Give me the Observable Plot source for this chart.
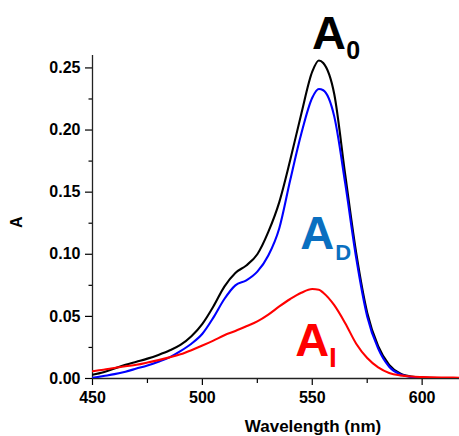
<!DOCTYPE html>
<html>
<head>
<meta charset="utf-8">
<script src="https://cdn.jsdelivr.net/npm/d3@7"></script>
<script src="https://cdn.jsdelivr.net/npm/@observablehq/plot@0.6"></script>
<style>
  html, body { margin: 0; padding: 0; background: #fff; }
</style>
</head>
<body>
<div id="chart"></div>
<script>
// Wavelength grid (nm)
const wavelength = [450, 455, 460, 465, 470, 475, 480, 485, 490, 495, 500, 505, 510, 515, 520, 525, 530, 535, 540, 545, 550, 553, 555, 560, 565, 570, 575, 580, 585, 590, 595, 600, 610, 620];
// A0 (black)
const a0 = [0.003, 0.005, 0.008, 0.011, 0.0135, 0.016, 0.019, 0.0225, 0.027, 0.034, 0.044, 0.058, 0.074, 0.085, 0.091, 0.100, 0.118, 0.142, 0.176, 0.213, 0.247, 0.256, 0.254, 0.229, 0.164, 0.101, 0.053, 0.026, 0.011, 0.004, 0.0015, 0.0008, 0.0004, 0.0003];
// AD (blue)
const aD = [0.0005, 0.002, 0.0035, 0.0055, 0.008, 0.0105, 0.0135, 0.017, 0.022, 0.028, 0.036, 0.049, 0.064, 0.075, 0.079, 0.086, 0.099, 0.121, 0.160, 0.197, 0.226, 0.233, 0.232, 0.211, 0.157, 0.097, 0.050, 0.024, 0.0095, 0.0035, 0.0012, 0.0006, 0.0003, 0.0002];
// AI (red)
const aI = [0.0059, 0.007, 0.0085, 0.0098, 0.011, 0.0128, 0.0148, 0.017, 0.0195, 0.0228, 0.0265, 0.0305, 0.0348, 0.0382, 0.042, 0.046, 0.0515, 0.058, 0.064, 0.069, 0.072, 0.0715, 0.069, 0.059, 0.0445, 0.028, 0.0165, 0.009, 0.0045, 0.0025, 0.0016, 0.0012, 0.0008, 0.0006];

const seriesNames = ["A0", "AD", "AI"];
const seriesColors = ["#000000", "#0000ff", "#ff0000"];

const xTicks = [450, 500, 550, 600];
const xMinorTicks = [475, 525, 575];
const yTicks = [0, 0.05, 0.10, 0.15, 0.20, 0.25];
const yMinorTicks = [0.025, 0.075, 0.125, 0.175, 0.225];

// Curve annotations: main letter and subscript, anchored at (wavelength, absorbance)
const labelMain = ["A", "A", "A"];
const labelSub = ["0", "D", "I"];
const labelColors = ["#000000", "#0a6fc0", "#ff0000"];
const labelMainX = [549.9, 544.5, 542.3];
const labelMainY = [0.265, 0.1043, 0.0185];
const labelSubX = [565.5, 560.5, 557.6];
const labelSubY = [0.257, 0.0954, 0.0096];
const labelSubSize = [25, 22, 28];

const rows = [];
[a0, aD, aI].forEach((vals, i) => {
  wavelength.forEach((w, j) => rows.push({series: seriesNames[i], wavelength: w, absorbance: vals[j]}));
});
const mains = labelMain.map((t, i) => ({t, x: labelMainX[i], y: labelMainY[i], c: labelColors[i]}));
const subs = labelSub.map((t, i) => ({t, x: labelSubX[i], y: labelSubY[i], c: labelColors[i], s: labelSubSize[i]}));

const chart = Plot.plot({
  width: 459,
  height: 436,
  marginLeft: 92,
  marginRight: 0,
  marginTop: 55,
  marginBottom: 58,
  x: {domain: [450, 617]},
  y: {domain: [0, 0.26]},
  color: {domain: seriesNames, range: seriesColors},
  style: {
    fontFamily: "'Liberation Sans', Arial, sans-serif",
    fontWeight: "bold",
    fontSize: "16px",
    background: "#fff",
    color: "#000",
    overflow: "visible"
  },
  marks: [
    Plot.axisX({ticks: xTicks, tickSize: 7, tickPadding: 6, tickFormat: d => String(d), label: null, fontSize: 16, strokeWidth: 1.2}),
    Plot.axisX({ticks: xMinorTicks, tickSize: 5, tickFormat: () => "", label: null, strokeWidth: 1.2}),
    Plot.axisY({ticks: yTicks, tickSize: 7, tickPadding: 5, tickFormat: d => d.toFixed(2), label: null, fontSize: 16, strokeWidth: 1.2}),
    Plot.axisY({ticks: yMinorTicks, tickSize: 3.5, tickFormat: () => "", label: null, strokeWidth: 1.2}),
    Plot.ruleX([450], {stroke: "#222", strokeWidth: 1.3}),
    Plot.ruleY([0], {stroke: "#222", strokeWidth: 1.3}),
    Plot.line(rows, {x: "wavelength", y: "absorbance", z: "series", stroke: "series", strokeWidth: 2.1, curve: "monotone-x", clip: true}),
    Plot.text(mains, {x: "x", y: "y", text: "t", fill: "c", textAnchor: "start", lineAnchor: "bottom", fontSize: 47, fontWeight: "bold"}),
    Plot.text(subs, {x: "x", y: "y", text: "t", fill: "c", textAnchor: "start", lineAnchor: "bottom", fontSize: "s", fontWeight: "bold"}),
    Plot.text(["Wavelength (nm)"], {frameAnchor: "bottom", dx: 37, dy: 53, lineAnchor: "bottom", fontSize: 17, fontWeight: "bold"}),
    Plot.text(["A"], {frameAnchor: "left", dx: -76, dy: 11, rotate: -90, fontSize: 16, fontWeight: "bold"})
  ]
});
document.getElementById("chart").appendChild(chart);
</script>
</body>
</html>
